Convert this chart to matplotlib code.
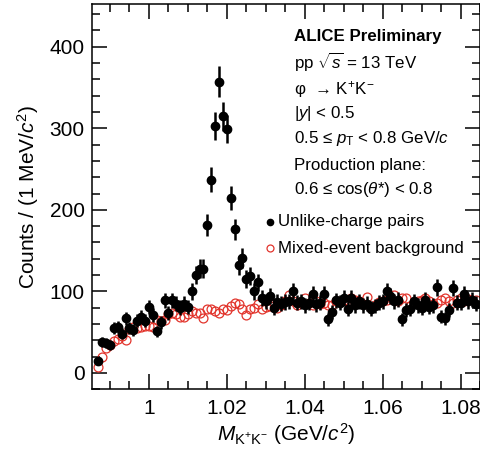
import numpy as np
import matplotlib
matplotlib.use("Agg")
import matplotlib.pyplot as plt
from matplotlib.ticker import MultipleLocator, FixedLocator

plt.rcParams['font.family'] = ['Liberation Sans', 'DejaVu Sans']
plt.rcParams['mathtext.fontset'] = 'custom'
plt.rcParams['mathtext.rm'] = 'Liberation Sans'
plt.rcParams['mathtext.it'] = 'Liberation Sans:italic'
plt.rcParams['mathtext.bf'] = 'Liberation Sans:bold'

# Invariant-mass bin centres (GeV/c^2), 1 MeV bins
mass = np.round(np.arange(0.987, 1.0845, 0.001), 3)

# Unlike-charge pairs (counts per bin)
unlike = [15, 38, 37, 34, 55, 56, 48, 67, 55, 53,
          64, 69, 64, 81, 71, 51, 62, 89, 74, 89,
          85, 80, 85, 81, 100, 120, 128, 128, 181, 237,
          303, 357, 315, 299, 214, 176, 132, 141, 115, 119,
          100, 111, 92, 88, 94, 80, 87, 85, 87, 88,
          100, 86, 88, 83, 86, 97, 84, 86, 97, 66,
          75, 89, 86, 92, 79, 92, 83, 88, 83, 85,
          79, 82, 86, 88, 100, 94, 88, 90, 66, 77,
          79, 88, 83, 80, 90, 81, 83, 105, 69, 67,
          77, 104, 86, 86, 97, 88, 90, 85]

# Mixed-event background (counts per bin)
mixed = [7, 20, 31, 34, 39, 42, 45, 41, 54, 56,
         55, 56, 58, 58, 56, 65, 64, 65, 72, 74,
         72, 69, 69, 72, 76, 74, 74, 67, 78, 78,
         76, 74, 79, 77, 82, 86, 84, 78, 71, 79,
         80, 84, 78, 81, 82, 85, 80, 83, 88, 96,
         88, 83, 86, 92, 86, 83, 88, 85, 86, 83,
         83, 88, 88, 89, 88, 92, 90, 88, 84, 93,
         80, 83, 87, 88, 90, 93, 96, 88, 92, 92,
         82, 86, 88, 90, 92, 88, 85, 86, 90, 92,
         88, 86, 90, 92, 88, 91, 90, 89]

unlike = np.array(unlike, dtype=float)
mixed = np.array(mixed, dtype=float)
unlike_err = np.sqrt(unlike)

W, H = 481, 450
fig = plt.figure(figsize=(W / 100, H / 100), dpi=100)
L, R, T, B = 91.7, 480.0, 4.3, 389.3
ax = fig.add_axes([L / W, 1 - B / H, (R - L) / W, (B - T) / H])

red = '#e2342c'
ax.plot(mass, mixed, linestyle='none', marker='o', ms=6.4, mfc='none',
        mec=red, mew=0.9, zorder=2)
ax.errorbar(mass, unlike, yerr=unlike_err, fmt='o', color='black', ms=6.0,
            elinewidth=1.8, capsize=0, zorder=3)

ax.set_xlim(0.9853, 1.0850)
ax.set_ylim(-20, 452)

ax.xaxis.set_major_locator(FixedLocator([1.0, 1.02, 1.04, 1.06, 1.08]))
ax.xaxis.set_minor_locator(MultipleLocator(0.005))
ax.yaxis.set_major_locator(MultipleLocator(100))
ax.yaxis.set_minor_locator(MultipleLocator(20))
ax.set_xticklabels(['1', '1.02', '1.04', '1.06', '1.08'])

ax.tick_params(which='both', direction='in', top=True, right=True,
               width=1.1, labelsize=15, pad=5)
ax.tick_params(which='major', length=10.5)
ax.tick_params(which='minor', length=5.5)
ax.tick_params(axis='x', pad=7)
for s in ax.spines.values():
    s.set_linewidth(1.1)

ax.set_xlabel(r'$M_{\mathrm{K^{+}K^{-}}}$ (GeV/$c^{2}$)', fontsize=15, labelpad=2)
ax.set_ylabel(r'Counts / (1 MeV/$c^{2}$)', fontsize=15, labelpad=6)

def axfx(px):
    return (px - L) / (R - L)

def axfy(py):
    return (B - py) / (B - T)

x0 = axfx(294)
lines = [
    ('ALICE Preliminary', 36, 'bold'),
    (r'pp $\sqrt{s}$ = 13 TeV', 62.7, 'normal'),
    ('\u03c6  \u2192 K$^{+}$K$^{-}$', 89, 'normal'),
    (r'|$y$| < 0.5', 113, 'normal'),
    ('0.5 \u2264 $p_{\\mathrm{T}}$ < 0.8 GeV/$c$', 138, 'normal'),
    ('Production plane:', 165, 'normal'),
    ('0.6 \u2264 cos($\\theta$*) < 0.8', 189, 'normal'),
]
for txt, py, wt in lines:
    ax.text(x0, axfy(py), txt, transform=ax.transAxes, fontsize=12.2,
            fontweight=wt, va='center', ha='left')

# legend
ax.plot([axfx(270)], [axfy(221.7)], marker='o', color='black', ms=4.5,
        transform=ax.transAxes, clip_on=False)
ax.text(axfx(278), axfy(221.7), 'Unlike-charge pairs', transform=ax.transAxes,
        fontsize=12.2, va='center', ha='left')
ax.plot([axfx(270)], [axfy(248)], marker='o', mfc='none', mec=red, mew=0.9,
        ms=5, transform=ax.transAxes, clip_on=False)
ax.text(axfx(278), axfy(248), 'Mixed-event background', transform=ax.transAxes,
        fontsize=12.2, va='center', ha='left')

fig.savefig('out.png', dpi=100)
